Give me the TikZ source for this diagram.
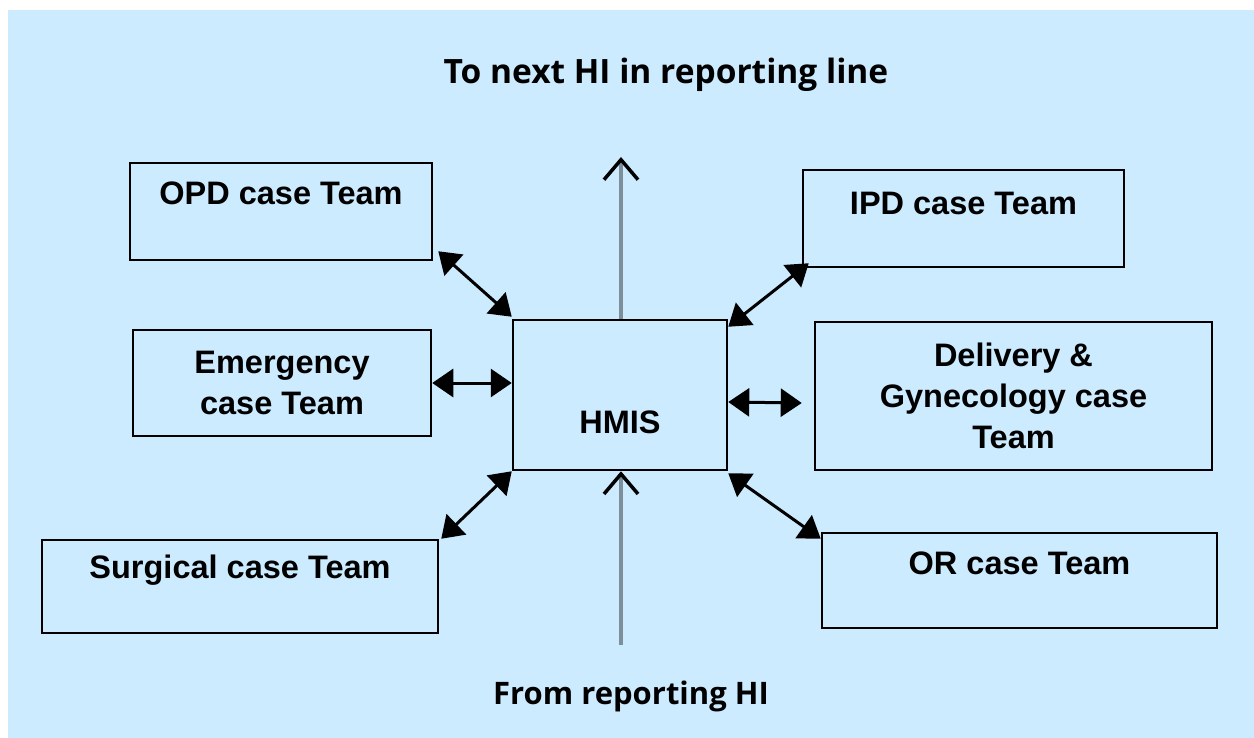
\documentclass[tikz,border=0pt]{standalone}
\usepackage{fontspec}
\setmainfont{Liberation Sans}
\newfontfamily\headfont{Open Sans}
\definecolor{hmisblue}{RGB}{204,235,255}
\definecolor{hmisgray}{RGB}{125,143,153}
\usetikzlibrary{arrows.meta}
\usetikzlibrary{positioning,backgrounds}
\tikzset{every picture/.style={/utils/exec={\bfseries}}}

\begin{document}
\begin{tikzpicture}[x=1pt,y=-1pt,
    team/.style={draw, line width=2.5pt, inner sep=0pt, align=center,
      font=\fontsize{32.5}{41}\selectfont\bfseries},
    every label/.style={font=\fontsize{32.5}{41}\selectfont\bfseries},
    heading/.style={font=\headfont\fontsize{31}{36}\selectfont\bfseries},
    twoway/.style={{Triangle[length=21pt,width=28pt]}-{Triangle[length=21pt,width=28pt]}, line width=3pt},
    flow/.style={draw=hmisgray, line width=4pt, -{Straight Barb[length=20pt,width=34pt,line width=3.5pt,color=black]}}]
  \useasboundingbox (0,0) rectangle (1254,738);

  \node [team, minimum width=214pt, minimum height=150pt,
    label={[anchor=center,yshift=-27pt]center:HMIS}] (hmis) at (620,395) {};

  \node [team, minimum width=302pt, minimum height=97pt,
    label={[anchor=center,yshift=-32pt]north:OPD case Team}] (opd) at (281,211.5) {};
  \node [team, minimum width=298pt, minimum height=106pt] (emergency) at (282,383) {Emergency\\case Team};
  \node [team, minimum width=396pt, minimum height=93pt,
    label={[anchor=center,yshift=-31pt]north:Surgical case Team}] (surgical) at (240,586.5) {};

  \node [team, minimum width=321pt, minimum height=97pt,
    label={[anchor=center,yshift=-35pt]north:IPD case Team}] (ipd) at (963.5,218.5) {};
  \node [team, minimum width=397pt, minimum height=148pt] (delivery) at (1013.5,396) {Delivery \&\\Gynecology case\\Team};
  \node [team, minimum width=395pt, minimum height=95pt,
    label={[anchor=center,yshift=-32pt]north:OR case Team}] (or) at (1019.5,580.5) {};

  \node [heading, font=\headfont\fontsize{33.5}{36}\selectfont\bfseries] (tonext) at (666,75) {To next HI in reporting line};
  \node [heading] (fromrep) at (631,696) {From reporting HI};

  \coordinate (uptip) at (621,157);
  \coordinate (upfoot) at (621,645);

  \draw [flow] (hmis.north -| uptip) -- (uptip);
  \draw [flow] (upfoot) -- (hmis.south -| upfoot);

  \draw [twoway] ([xshift=5pt,yshift=10pt]opd.south east) -- ([yshift=2pt]hmis.north west);
  \draw [twoway] (emergency.east) -- (emergency.east -| hmis.west);
  \draw [twoway] ([xshift=2pt]surgical.north east) -- (hmis.south west);
  \draw [twoway] ([xshift=7pt,yshift=5pt]ipd.south west) -- ([yshift=-8pt]hmis.north east);
  \draw [twoway] ([yshift=-7pt]hmis.east) -- ([xshift=-12pt,yshift=-7pt]delivery.west);
  \draw [twoway] ([yshift=-7pt]or.north west) -- ([yshift=-2pt]hmis.south east);

  \begin{scope}[on background layer]
    \fill [hmisblue] (8,10) rectangle (1254,738);
  \end{scope}
\end{tikzpicture}
\end{document}
